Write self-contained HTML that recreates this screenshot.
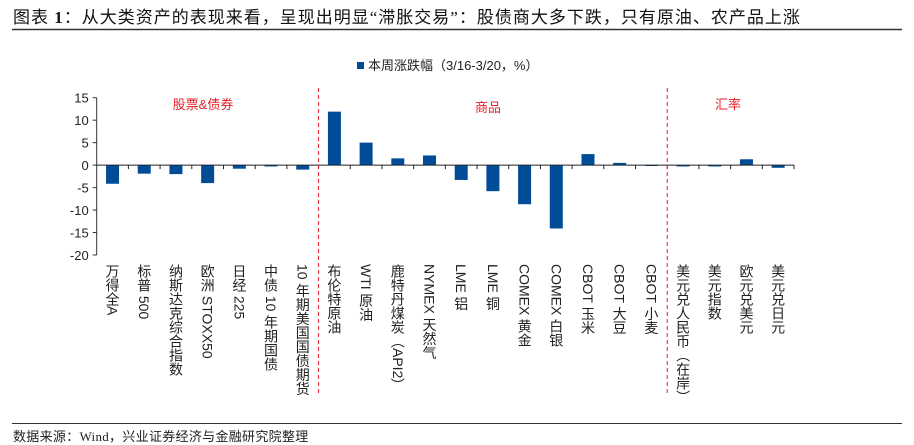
<!DOCTYPE html>
<html><head><meta charset="utf-8">
<style>
body{margin:0;width:914px;height:445px;background:#fff;position:relative;overflow:hidden;font-family:"Liberation Sans","Noto Sans CJK SC",sans-serif;}
.title{position:absolute;left:13px;top:3px;font-size:17px;color:#111;font-family:"Liberation Serif","Noto Sans CJK SC",sans-serif;white-space:nowrap;letter-spacing:1px}
.lbl{position:absolute;top:264px;writing-mode:vertical-rl;font-size:14px;line-height:14px;color:#222;white-space:nowrap;}
.src{position:absolute;left:13px;top:426px;font-size:13px;color:#222;font-family:"Liberation Serif","Noto Sans CJK SC",sans-serif;letter-spacing:0.3px}
</style></head><body>
<div class="title">图表 <b>1</b>：从大类资产的表现来看，呈现出明显“滞胀交易”：股债商大多下跌，只有原油、农产品上涨</div>
<svg id="c" width="914" height="445" style="position:absolute;left:0;top:0">
<line x1="12" y1="29.5" x2="902" y2="29.5" stroke="#333" stroke-width="1.5"/>
<line x1="12" y1="423.5" x2="902" y2="423.5" stroke="#333" stroke-width="1"/>
<g>
<rect x="357" y="62" width="7" height="7" fill="#004c97"/>
<text x="368" y="70" font-size="13" fill="#222">本周涨跌幅（3/16-3/20，%）</text>
</g>
<text x="203" y="109" font-size="13" fill="#e8202a" text-anchor="middle">股票&amp;债券</text>
<text x="488" y="112" font-size="13" fill="#e8202a" text-anchor="middle">商品</text>
<text x="728" y="109" font-size="13" fill="#e8202a" text-anchor="middle">汇率</text>
</svg>
<div class="src">数据来源：Wind，兴业证券经济与金融研究院整理</div>
<script>
const categories=["万得全A","标普 500","纳斯达克综合指数","欧洲 STOXX50","日经 225","中债 10 年期国债","10 年期美国国债期货","布伦特原油","WTI 原油","鹿特丹煤炭（API2）","NYMEX 天然气","LME 铝","LME 铜","COMEX 黄金","COMEX 白银","CBOT 玉米","CBOT 大豆","CBOT 小麦","美元兑人民币（在岸）","美元指数","欧元兑美元","美元兑日元"];
const values=[-4.15,-1.9,-2.0,-4.0,-0.8,-0.3,-1.0,11.9,5.0,1.5,2.15,-3.3,-5.8,-8.7,-14.1,2.45,0.5,-0.2,-0.3,-0.3,1.3,-0.6];
const yTicks=[15,10,5,0,-5,-10,-15,-20];
const dividers=[7,18];
const NS="http://www.w3.org/2000/svg";
const svg=document.getElementById('c');
const x0=96.7,x1=794,yTop=97.7,yBot=255,vMax=15,vMin=-20;
const step=(x1-x0)/categories.length;
function y(v){return yTop+(vMax-v)/(vMax-vMin)*(yBot-yTop);}
function xc(i){return x0+step*(i+0.5);}
function mk(t,a){const e=document.createElementNS(NS,t);for(const k in a)e.setAttribute(k,a[k]);svg.appendChild(e);return e;}
const ya=mk('line',{x1:x0,y1:yTop,x2:x0,y2:yBot,stroke:'#333','stroke-width':1});


yTicks.forEach(v=>{
 const t=mk('line',{x1:x0-4,y1:y(v),x2:x0,y2:y(v),stroke:'#333'});
 
 
 const l=mk('text',{x:x0-8,y:y(v)+5,'font-size':13,'text-anchor':'end',fill:'#222'});
 l.textContent=(v<0?'-':'')+Math.abs(v);
 
 
});
values.forEach((v,i)=>{
 const r=mk('rect',{x:xc(i)-6.5,y:Math.min(y(v),y(0)),width:13,height:Math.max(Math.abs(y(v)-y(0)),0.8),fill:'#004c97'});
 
 
});
const xa=mk('line',{x1:x0,y1:y(0),x2:x1,y2:y(0),stroke:'#222','stroke-width':1});


for(let i=1;i<=categories.length;i++){
 const t=mk('line',{x1:x0+step*i,y1:y(0),x2:x0+step*i,y2:y(0)+4,stroke:'#222'});
 
 
}
dividers.forEach(d=>{
 const l=mk('line',{x1:x0+step*d,y1:88,x2:x0+step*d,y2:393,stroke:'#e8202a','stroke-width':1,'stroke-dasharray':'4,3'});
 
 
});
categories.forEach((c,i)=>{
 const d=document.createElement('div');
 d.className='lbl';
 d.style.left=(xc(i)-7)+'px';
 d.textContent=c;
 
 
 document.body.appendChild(d);
});
</script>
</body></html>
